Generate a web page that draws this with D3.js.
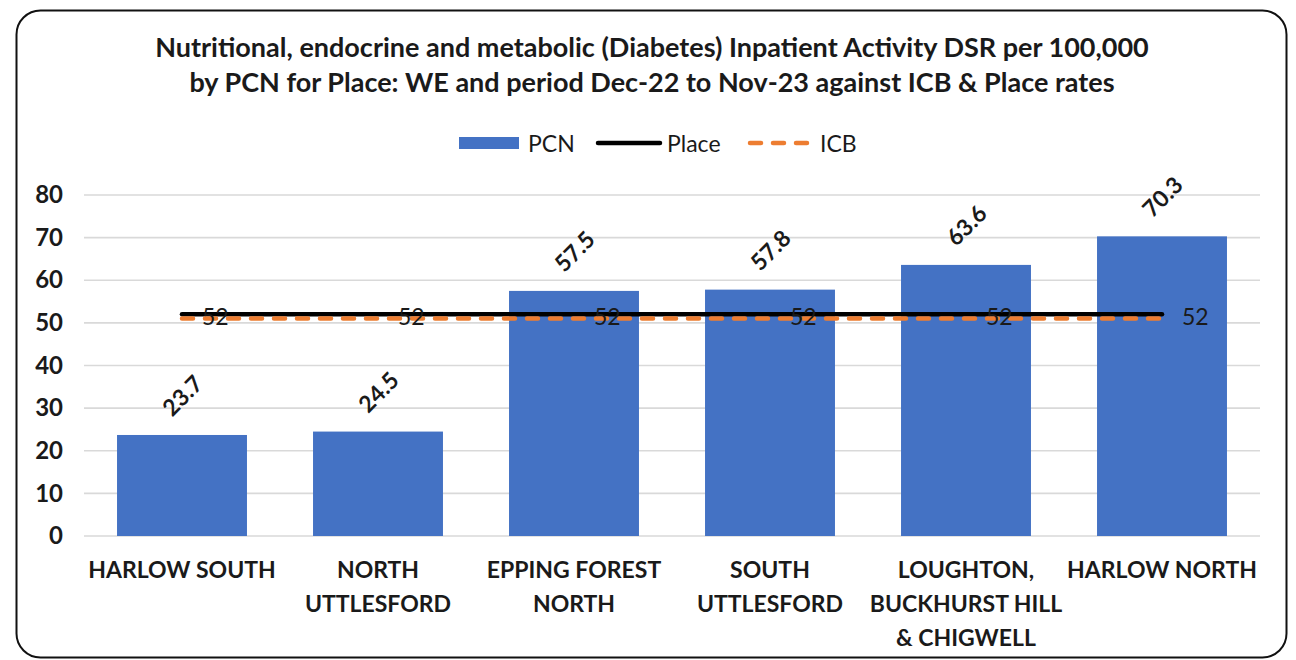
<!DOCTYPE html>
<html>
<head>
<meta charset="utf-8">
<script src="https://cdn.jsdelivr.net/npm/d3@7"></script>
<style>
  html, body { margin: 0; padding: 0; background: #fff; }
  svg { display: block; font-family: Lato, "Open Sans", sans-serif; }
</style>
</head>
<body>
<svg id="chart" width="1296" height="660"></svg>
<script>
// PCN rates of diabetes-related inpatient activity (DSR per 100,000)
const categories = ["HARLOW SOUTH", "NORTH UTTLESFORD", "EPPING FOREST NORTH",
  "SOUTH UTTLESFORD", "LOUGHTON, BUCKHURST HILL & CHIGWELL", "HARLOW NORTH"];
const categoryLines = [["HARLOW SOUTH"], ["NORTH", "UTTLESFORD"], ["EPPING FOREST", "NORTH"],
  ["SOUTH", "UTTLESFORD"], ["LOUGHTON,", "BUCKHURST HILL", "& CHIGWELL"], ["HARLOW NORTH"]];
const pcnValues = [23.7, 24.5, 57.5, 57.8, 63.6, 70.3];
const placeValues = [52, 52, 52, 52, 52, 52];
const icbValues = [51, 51, 51, 51, 51, 51];
const yTicks = [0, 10, 20, 30, 40, 50, 60, 70, 80];
const titleLines = [
  "Nutritional, endocrine and metabolic (Diabetes) Inpatient Activity DSR per 100,000",
  "by PCN for Place: WE and period Dec-22 to Nov-23 against ICB & Place rates"
];

const svg = d3.select("#chart");
const plot = { left: 84, right: 1260, top: 195, bottom: 536 };

const BLUE = "#4472C4", ORANGE = "#ED7D31", INK = "#1a1a1a";

// rounded chart frame
svg.append("rect")
  .attr("x", 16.5).attr("y", 10.5)
  .attr("width", 1270).attr("height", 647)
  .attr("rx", 24).attr("ry", 24)
  .attr("fill", "#fff").attr("stroke", "#111").attr("stroke-width", 2);

// title
svg.append("g").selectAll("text").data(titleLines).join("text")
  .attr("x", 652).attr("y", (d, i) => 57 + i * 35)
  .attr("text-anchor", "middle")
  .attr("font-size", 27).attr("font-weight", 700).attr("fill", INK)
  .text(d => d);

const x = d3.scaleBand().domain(categories).range([plot.left, plot.right])
  .paddingInner(0.337).paddingOuter(0.337 / 2);
const y = d3.scaleLinear().domain([0, 80]).range([plot.bottom, plot.top]);

// horizontal gridlines
svg.append("g").selectAll("line").data(yTicks).join("line")
  .attr("x1", plot.left).attr("x2", plot.right)
  .attr("y1", d => y(d)).attr("y2", d => y(d))
  .attr("stroke", "#d9d9d9").attr("stroke-width", 1.6);

// y axis labels
const yAxis = svg.append("g").attr("transform", `translate(${plot.left},0)`)
  .call(d3.axisLeft(y).tickValues(yTicks).tickSize(0).tickPadding(21));
yAxis.select(".domain").remove();
yAxis.selectAll("text").attr("font-size", 24).attr("font-weight", 700).attr("fill", INK)
  .attr("font-family", "Lato, sans-serif");

// bars
svg.append("g").selectAll("rect").data(pcnValues).join("rect")
  .attr("x", (d, i) => x(categories[i]))
  .attr("width", x.bandwidth())
  .attr("y", d => y(d))
  .attr("height", d => y(0) - y(d))
  .attr("fill", BLUE);

// bar value labels, rotated
svg.append("g").selectAll("text").data(pcnValues).join("text")
  .attr("transform", (d, i) => `translate(${x(categories[i]) + x.bandwidth() / 2},${y(d) - 40}) rotate(-45)`)
  .attr("text-anchor", "middle").attr("dominant-baseline", "central")
  .attr("font-size", 23).attr("font-weight", 700).attr("fill", INK)
  .text(d => d.toFixed(1));

// category labels
const xAxis = svg.append("g").attr("transform", `translate(0,${plot.bottom})`)
  .call(d3.axisBottom(x).tickSize(0).tickFormat(""));
xAxis.select(".domain").remove();
svg.append("g").selectAll("text").data(categoryLines).join("text")
  .attr("x", (d, i) => x(categories[i]) + x.bandwidth() / 2)
  .attr("y", 578)
  .attr("text-anchor", "middle")
  .attr("font-size", 23).attr("font-weight", 700).attr("fill", INK)
  .each(function (lines) {
    const t = d3.select(this);
    lines.forEach((l, j) => t.append("tspan")
      .attr("x", t.attr("x")).attr("dy", j === 0 ? 0 : 34).text(l));
  });

const cx = (d, i) => x(categories[i]) + x.bandwidth() / 2;

// Place rate line
svg.append("path").datum(placeValues)
  .attr("d", d3.line().x(cx).y(d => y(d)))
  .attr("fill", "none").attr("stroke", "#000").attr("stroke-width", 4.5).attr("stroke-linecap", "round");

// ICB rate line
svg.append("path").datum(icbValues)
  .attr("d", d3.line().x(cx).y(d => y(d)))
  .attr("fill", "none").attr("stroke", ORANGE).attr("stroke-width", 4.5)
  .attr("stroke-linecap", "round").attr("stroke-dasharray", "11,12");

// Place value labels
svg.append("g").selectAll("text").data(placeValues).join("text")
  .attr("x", (d, i) => cx(d, i) + 20)
  .attr("y", d => y(d) + 2)
  .attr("dominant-baseline", "central")
  .attr("font-size", 23).attr("fill", INK)
  .text(d => d);

// legend
const leg = svg.append("g");
leg.append("rect").attr("x", 459).attr("y", 137).attr("width", 60).attr("height", 12).attr("fill", BLUE);
leg.append("text").attr("x", 528).attr("y", 143).attr("dominant-baseline", "central")
  .attr("font-size", 23).attr("fill", INK).text("PCN");
leg.append("line").attr("x1", 598).attr("x2", 660).attr("y1", 143).attr("y2", 143)
  .attr("stroke", "#000").attr("stroke-width", 4.5).attr("stroke-linecap", "round");
leg.append("text").attr("x", 667).attr("y", 143).attr("dominant-baseline", "central")
  .attr("font-size", 23).attr("fill", INK).text("Place");
leg.append("line").attr("x1", 750).attr("x2", 812).attr("y1", 143).attr("y2", 143)
  .attr("stroke", ORANGE).attr("stroke-width", 4.5).attr("stroke-linecap", "round")
  .attr("stroke-dasharray", "11,12");
leg.append("text").attr("x", 820).attr("y", 143).attr("dominant-baseline", "central")
  .attr("font-size", 23).attr("fill", INK).text("ICB");
</script>
</body>
</html>
